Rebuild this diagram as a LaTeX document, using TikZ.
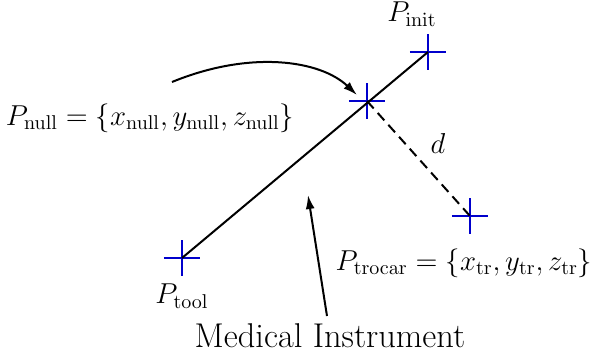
\documentclass[tikz,border=0pt]{standalone}
\usetikzlibrary{arrows.meta,calc}
\begin{document}
\begin{tikzpicture}[x=0.5pt,y=-0.5pt,
  crossmark/.style={draw=blue!80!black,line width=1pt},
  lbl/.style={font=\fontsize{14.4}{16}\selectfont,inner sep=0pt},
  conn/.style={line width=1pt},
  pointer/.style={line width=1pt,-{Latex[length=7pt,width=4.5pt]}}]
\useasboundingbox (0,0) rectangle (591,360);
\coordinate (tool) at (182,258);
\coordinate (init) at (428,52);
\coordinate (null) at (367,101);
\coordinate (troc) at (470,216);
\foreach \p in {tool,init,null,troc}{
  \draw[crossmark] ($(\p)+(-18,0)$) -- ($(\p)+(18,0)$);
  \draw[crossmark] ($(\p)+(0,-18)$) -- ($(\p)+(0,18)$);
}
\draw[conn] (tool) -- (init);
\draw[conn,dashed,dash pattern=on 5pt off 3pt] (null) -- (troc);
\node[lbl] (dl) at (438,143) {$d$};
\node[lbl] (linit) at (412,14) {$P_{\mathrm{init}}$};
\node[lbl] (ltool) at (182,296) {$P_{\mathrm{tool}}$};
\node[lbl] (lnull) at (150,118) {$P_{\mathrm{null}} = \{x_{\mathrm{null}}, y_{\mathrm{null}}, z_{\mathrm{null}}\}$};
\node[lbl] (ltroc) at (464,263) {$P_{\mathrm{trocar}} = \{x_{\mathrm{tr}}, y_{\mathrm{tr}}, z_{\mathrm{tr}}\}$};
\node[inner sep=0pt,font=\fontsize{17.2}{20}\selectfont] (med) at (330,336) {Medical Instrument};
\coordinate (c1) at (172,82);
\coordinate (c2) at (357,95);
\draw[pointer] (c1) .. controls (250,50) and (320,60) .. (c2);
\coordinate (m1) at (327,316);
\coordinate (m2) at (308,195);
\draw[pointer] (m1) -- (m2);
\end{tikzpicture}
\end{document}
